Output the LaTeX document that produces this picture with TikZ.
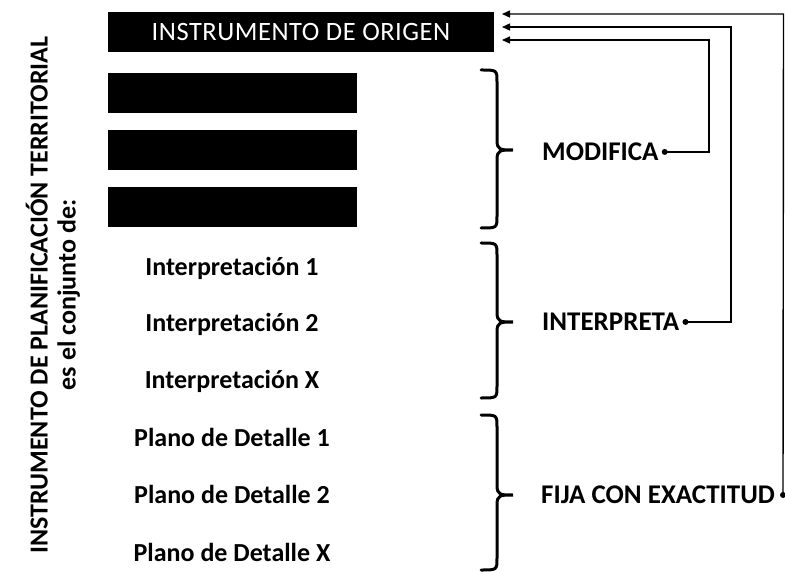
\documentclass[tikz,border=0pt]{standalone}
\usepackage{fontspec}
\setmainfont{Carlito}
\usetikzlibrary{arrows.meta}
\begin{document}
\begin{tikzpicture}[x=1pt,y=-1pt,
  lbl/.style={font=\fontsize{26}{28}\selectfont\bfseries, inner sep=0pt, anchor=base},
  rlbl/.style={font=\fontsize{27}{29}\selectfont\bfseries, inner sep=0pt, anchor=base west},
  blackbar/.style={fill=black, draw=none, minimum width=249pt, minimum height=40pt, inner sep=0pt},
  bracepath/.style={line width=3pt, line cap=round},
  conn/.style={line width=1.4pt},
  arr/.style={conn, -{Triangle[length=8pt,width=7pt]}},
  dot/.style={circle, fill=black, inner sep=0pt, minimum size=6pt}
]
\useasboundingbox (0,0) rectangle (785,572);
% vertical title
\node[rotate=90, align=center, font=\fontsize{26}{28}\selectfont\bfseries, inner sep=0pt] (title) at (53,295)
  {INSTRUMENTO DE PLANIFICACIÓN TERRITORIAL\\es el conjunto de:};
% top box
\node[fill=black, minimum width=386pt, minimum height=40pt, inner sep=0pt,
  text=white, font=\fontsize{26.5}{28}\selectfont\addfontfeatures{LetterSpace=2}] (origen) at (301,32) {INSTRUMENTO DE ORIGEN};
% black bars
\node[blackbar] (b1) at (232.5,93) {};
\node[blackbar] (b2) at (232.5,150) {};
\node[blackbar] (b3) at (232.5,207) {};
% left texts
\node[lbl] (i1) at (232,275.4) {Interpretación 1};
\node[lbl] (i2) at (232,331.4) {Interpretación 2};
\node[lbl] (i3) at (232,388.4) {Interpretación X};
\node[lbl] (p1) at (232,446.4) {Plano de Detalle 1};
\node[lbl] (p2) at (232,503.4) {Plano de Detalle 2};
\node[lbl] (p3) at (232,561.4) {Plano de Detalle X};
% braces
\foreach \ya/\ym/\yb in {70/150/228, 243/322/398, 415/495/570}{
  \draw[bracepath] (481,\ya) .. controls (497,\ya) and (497,\ya) .. (497,\ya+12)
    -- (497,\ym-10) .. controls (497,\ym) and (500,\ym) .. (513,\ym)
    .. controls (500,\ym) and (497,\ym) .. (497,\ym+10)
    -- (497,\yb-12) .. controls (497,\yb) and (497,\yb) .. (481,\yb);
}
% right labels
\node[rlbl] (mod) at (542,160.7) {MODIFICA};
\node[rlbl] (int) at (542,330.7) {INTERPRETA};
\node[rlbl] (fij) at (541,503.7) {FIJA CON EXACTITUD};
\node[dot] (d1) at ([xshift=6pt]mod.east) {};
\node[dot] (d2) at ([xshift=6pt]int.east) {};
\node[dot] (d3) at (783,495) {};
% connector coordinates
\coordinate (c1) at (709,40);
\coordinate (c2) at (731,27);
\coordinate (c3) at (783.5,14);
\coordinate (a1) at (502,40);
\coordinate (a2) at (502,27);
\coordinate (a3) at (502,14);
\draw[arr] (d1.center) -| (c1) -- (a1);
\draw[arr] (d2.center) -| (c2) -- (a2);
\draw[arr] (d3.center) -- (c3) -- (a3);
\end{tikzpicture}
\end{document}
